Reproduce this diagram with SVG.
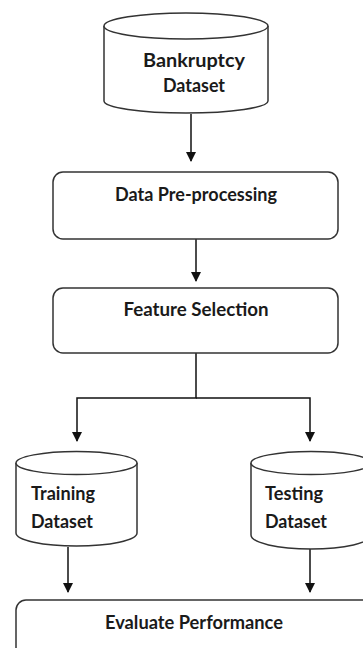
<svg xmlns="http://www.w3.org/2000/svg" width="363" height="648" viewBox="0 0 363 648">
<defs>
<marker id="ah" markerWidth="10" markerHeight="11" refX="9" refY="5" orient="auto" markerUnits="userSpaceOnUse">
<path d="M0,0 L10,5 L0,10 Z" fill="#111"/>
</marker>
<style>
.s{fill:#fff;stroke:#333;stroke-width:1.5}
.c{fill:none;stroke:#111;stroke-width:1.5}
.t{font-family:Lato,"Liberation Sans",sans-serif;font-weight:700;font-size:19px;fill:#1a1a1a}
.m{text-anchor:middle}
</style>
</defs>
<rect width="363" height="648" fill="#fff"/>
<g id="connectors">
<line class="c" x1="191" y1="114" x2="191" y2="161" marker-end="url(#ah)"/>
<line class="c" x1="196" y1="239" x2="196" y2="281" marker-end="url(#ah)"/>
<polyline class="c" points="196,353 196,398 77,398 77,441" marker-end="url(#ah)"/>
<polyline class="c" points="196,398 310,398 310,441" marker-end="url(#ah)"/>
<line class="c" x1="68" y1="547" x2="68" y2="592" marker-end="url(#ah)"/>
<line class="c" x1="310" y1="549" x2="310" y2="592" marker-end="url(#ah)"/>
</g>
<g id="bankruptcy">
<path class="s" d="M104,26 L104,101 A82,12 0 0 0 268,101 L268,26"/>
<ellipse class="s" cx="186" cy="26" rx="82" ry="13"/>
<text class="t m" x="194" y="67" textLength="102" lengthAdjust="spacingAndGlyphs">Bankruptcy</text>
<text class="t m" x="194" y="92" textLength="62" lengthAdjust="spacingAndGlyphs">Dataset</text>
</g>
<g id="preprocessing">
<rect class="s" x="53" y="172" width="285" height="67" rx="10"/>
<text class="t m" x="196" y="201" textLength="162" lengthAdjust="spacingAndGlyphs">Data Pre-processing</text>
</g>
<g id="feature">
<rect class="s" x="53" y="288" width="285" height="65" rx="10"/>
<text class="t m" x="196" y="316" textLength="145" lengthAdjust="spacingAndGlyphs">Feature Selection</text>
</g>
<g id="training">
<path class="s" d="M16,463 L16,533 A60.5,13 0 0 0 137,533 L137,463"/>
<ellipse class="s" cx="76.5" cy="463" rx="60.5" ry="11.5"/>
<text class="t" x="31" y="500" textLength="64" lengthAdjust="spacingAndGlyphs">Training</text>
<text class="t" x="31" y="528" textLength="62" lengthAdjust="spacingAndGlyphs">Dataset</text>
</g>
<g id="testing">
<path class="s" d="M251,463 L251,535 A60,14 0 0 0 371,535 L371,463"/>
<ellipse class="s" cx="311" cy="463" rx="60" ry="11.5"/>
<text class="t" x="265" y="500" textLength="58" lengthAdjust="spacingAndGlyphs">Testing</text>
<text class="t" x="265" y="528" textLength="62" lengthAdjust="spacingAndGlyphs">Dataset</text>
</g>
<g id="evaluate">
<rect class="s" x="16" y="600" width="360" height="70" rx="10"/>
<text class="t m" x="194" y="629" textLength="178" lengthAdjust="spacingAndGlyphs">Evaluate Performance</text>
</g>
</svg>
